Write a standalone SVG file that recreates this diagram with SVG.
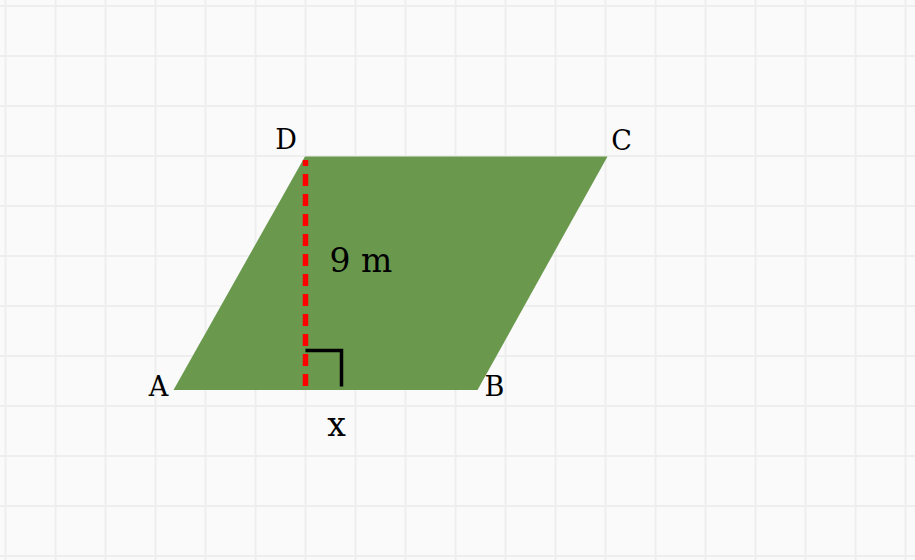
<svg xmlns="http://www.w3.org/2000/svg" width="915" height="560" viewBox="0 0 915 560">
  <style>
    .grid line { stroke: #eeeeee; stroke-width: 2; }
    .lbl { font-family: "DejaVu Serif", "Liberation Serif", serif; fill: #000; text-anchor: middle; }
    .pt { font-size: 27px; }
    .big { font-size: 33px; }
  </style>
  <rect x="0" y="0" width="915" height="560" fill="#fafafa"/>
  <g class="grid" id="grid">
    <line x1="5.5" y1="0" x2="5.5" y2="560"/>
    <line x1="55.5" y1="0" x2="55.5" y2="560"/>
    <line x1="105.5" y1="0" x2="105.5" y2="560"/>
    <line x1="155.5" y1="0" x2="155.5" y2="560"/>
    <line x1="205.5" y1="0" x2="205.5" y2="560"/>
    <line x1="255.5" y1="0" x2="255.5" y2="560"/>
    <line x1="305.5" y1="0" x2="305.5" y2="560"/>
    <line x1="355.5" y1="0" x2="355.5" y2="560"/>
    <line x1="405.5" y1="0" x2="405.5" y2="560"/>
    <line x1="455.5" y1="0" x2="455.5" y2="560"/>
    <line x1="505.5" y1="0" x2="505.5" y2="560"/>
    <line x1="555.5" y1="0" x2="555.5" y2="560"/>
    <line x1="605.5" y1="0" x2="605.5" y2="560"/>
    <line x1="655.5" y1="0" x2="655.5" y2="560"/>
    <line x1="705.5" y1="0" x2="705.5" y2="560"/>
    <line x1="755.5" y1="0" x2="755.5" y2="560"/>
    <line x1="805.5" y1="0" x2="805.5" y2="560"/>
    <line x1="855.5" y1="0" x2="855.5" y2="560"/>
    <line x1="905.5" y1="0" x2="905.5" y2="560"/>
    <line x1="0" y1="6" x2="915" y2="6"/>
    <line x1="0" y1="56" x2="915" y2="56"/>
    <line x1="0" y1="106" x2="915" y2="106"/>
    <line x1="0" y1="156" x2="915" y2="156"/>
    <line x1="0" y1="206" x2="915" y2="206"/>
    <line x1="0" y1="256" x2="915" y2="256"/>
    <line x1="0" y1="306" x2="915" y2="306"/>
    <line x1="0" y1="356" x2="915" y2="356"/>
    <line x1="0" y1="406" x2="915" y2="406"/>
    <line x1="0" y1="456" x2="915" y2="456"/>
    <line x1="0" y1="506" x2="915" y2="506"/>
    <line x1="0" y1="556" x2="915" y2="556"/>
  </g>
  <g id="parallelogram">
    <polygon points="173.5,390 477.5,390 607.5,156.5 305,156.5" fill="#6a994e"/>
  </g>
  <g id="height">
    <line x1="305.5" y1="160" x2="305.5" y2="390" stroke="#ff0000" stroke-width="5.5" stroke-dasharray="12 8" stroke-dashoffset="6"/>
  </g>
  <g id="right-angle">
    <polyline points="305.5,350.5 341.5,350.5 341.5,386.5" fill="none" stroke="#000" stroke-width="3.5"/>
  </g>
  <g id="labels">
    <text class="lbl pt" x="286" y="149">D</text>
    <text class="lbl pt" x="621.5" y="150">C</text>
    <text class="lbl pt" x="158.5" y="396">A</text>
    <text class="lbl pt" x="494.5" y="396">B</text>
    <text class="lbl big" x="361" y="272">9 m</text>
    <text class="lbl big" x="336.5" y="436">x</text>
  </g>
</svg>
